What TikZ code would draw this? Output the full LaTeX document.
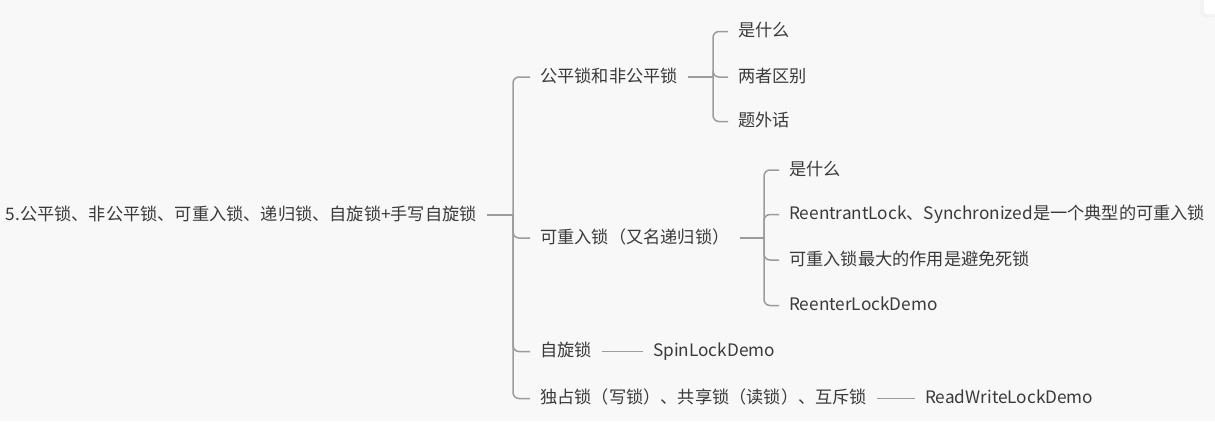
\documentclass[tikz,border=0pt]{standalone}
\usepackage{fontspec}
\setmainfont{Noto Sans CJK SC}
\definecolor{bgcol}{HTML}{F8F8F8}
\definecolor{txtcol}{HTML}{3A3A3A}
\definecolor{linecol}{HTML}{9C9C9C}
\begin{document}
\begin{tikzpicture}[x=1pt,y=-1pt,
        topic/.style={font=\fontsize{17.2}{20}\selectfont, text=txtcol, inner xsep=10pt, inner ysep=0pt,
                      text height=10pt, text depth=0pt, anchor=west},
        branch/.style={draw=linecol, line width=1.5pt, rounded corners=6pt}]
        % canvas
        \fill[bgcol] (0,0) rectangle (1215,421);
        \useasboundingbox (0,0) rectangle (1215,421);
        \fill[black!5, rounded corners=4pt] (1200,-6) rectangle (1222,17);
        \fill[white, rounded corners=3pt] (1204,-6) rectangle (1222,14);

        % root and first level
        \node[topic, anchor=east] (root) at (487,215) {5.公平锁、非公平锁、可重入锁、递归锁、自旋锁+手写自旋锁};
        \coordinate (j0) at (513,215);
        \node[topic] (fair) at (530,77) {公平锁和非公平锁};
        \node[topic] (reent) at (530,238) {可重入锁（又名递归锁）};
        \node[topic] (spin) at (530,351.5) {自旋锁};
        \node[topic] (rw) at (530,398.5) {独占锁（写锁）、共享锁（读锁）、互斥锁};

        % fair / unfair
        \coordinate (j1) at (713,77);
        \node[topic] (what1) at (728,31.5) {是什么};
        \node[topic] (diff) at (728,77) {两者区别};
        \node[topic] (extra) at (728,121.5) {题外话};

        % reentrant
        \coordinate (j2) at (764,238);
        \node[topic] (what2) at (779,170) {是什么};
        \node[topic] (sync) at (779,214.5) {ReentrantLock、Synchronized是一个典型的可重入锁};
        \node[topic] (deadlock) at (779,260) {可重入锁最大的作用是避免死锁};
        \node[topic] (reenterdemo) at (779,305.5) {ReenterLockDemo};

        % single children
        \node[topic] (spindemo) at (643,351.5) {SpinLockDemo};
        \node[topic] (rwdemo) at (915,398.5) {ReadWriteLockDemo};

        \draw[branch] (root.east) -- (j0);
        \foreach \n in {fair,reent,spin,rw}
            \draw[branch] (j0) |- (\n.west);
        \draw[branch] (fair.east) -- (j1);
        \foreach \n in {what1,diff,extra}
            \draw[branch] (j1) |- (\n.west);
        \draw[branch] (reent.east) -- (j2);
        \foreach \n in {what2,sync,deadlock,reenterdemo}
            \draw[branch] (j2) |- (\n.west);
        \draw[branch] (spin.east) -- (spindemo.west);
        \draw[branch] (rw.east) -- (rwdemo.west);
    \end{tikzpicture}
\end{document}
